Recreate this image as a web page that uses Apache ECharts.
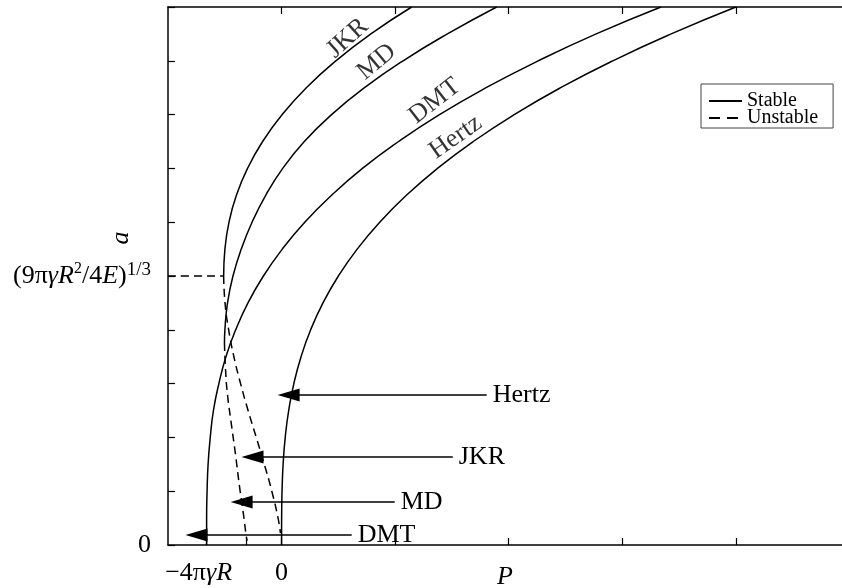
<!DOCTYPE html>
<html>
<head>
<meta charset="utf-8">
<script src="https://cdn.jsdelivr.net/npm/echarts@6/dist/echarts.min.js"></script>
<style>
  html, body { margin: 0; padding: 0; background: #fff; }
  #chart { width: 842px; height: 588px; }
</style>
</head>
<body>
<div id="chart"></div>
<script>
// points are [P, a] (x: one unit per tick, y: one unit per tick)
const hertzCurve = [[0,0],[0.0001,0.25],[0.0005,0.5],[0.0017,0.75],[0.004,1],[0.0135,1.5],[0.032,2],[0.0625,2.5],[0.108,3],[0.1715,3.5],[0.256,4],[0.3645,4.5],[0.5,5],[0.6655,5.5],[0.864,6],[1.0985,6.5],[1.372,7],[1.6875,7.5],[2.048,8],[2.4565,8.5],[2.916,9],[3.43,9.5],[4.0,10]];
const dmtCurve = [[-0.66,0],[-0.66,0.5],[-0.656,1],[-0.647,1.5],[-0.628,2],[-0.6,2.5],[-0.552,3],[-0.49,3.5],[-0.404,4],[-0.296,4.5],[-0.16,5],[0.006,5.5],[0.204,6],[0.44,6.5],[0.712,7],[1.03,7.5],[1.39,8],[1.8,8.5],[2.26,9],[2.77,9.5],[3.34,10]];
const jkrStable = [[1.145,10],[0.786,9.5],[0.478,9],[0.218,8.5],[0.005,8],[-0.167,7.5],[-0.3,7],[-0.398,6.5],[-0.463,6],[-0.499,5.5],[-0.51,5]];
const jkrUnstable = [[-0.51,5],[-0.498,4.5],[-0.466,4],[-0.42,3.5],[-0.361,3],[-0.295,2.5],[-0.223,2],[-0.152,1.5],[-0.086,1],[-0.031,0.5],[-0.01,0.22]];
const mdStable = [[1.894,10],[1.46,9.5],[1.07,9],[0.73,8.5],[0.44,8],[0.2,7.5],[0.01,7],[-0.14,6.5],[-0.26,6],[-0.355,5.5],[-0.428,5],[-0.476,4.5],[-0.499,4],[-0.503,3.755]];
const mdUnstable = [[-0.503,3.755],[-0.493,3.25],[-0.476,2.79],[-0.441,2.23],[-0.405,1.67],[-0.37,1.08],[-0.335,0.56],[-0.31,0.15],[-0.303,0.08]];
const criticalLine = [[-1,5],[-0.51,5]];

// arrows pointing at where each model starts (a, tail P, tip P)
const arrowNames = ['Hertz', 'JKR', 'MD', 'DMT'];
const arrowA = [2.79, 1.636, 0.80, 0.186];
const arrowTail = [1.806, 1.507, 0.996, 0.617];
const arrowTip = [0.062, -0.256, -0.352, -0.749];

// names written along the curves
const curveNames = ['JKR', 'MD', 'DMT', 'Hertz'];
const curveNameP = [0.581, 0.837, 1.348, 1.533];
const curveNameA = [9.42, 8.98, 8.25, 7.58];
const curveNameAngle = [42, 40, 38, 35];

const xTicks = [-0.66, -0.31, 0, 1, 2, 3, 4];
const xTopTicks = [0, 1, 2, 3, 4];
const xLabelAt = [-0.73, 0];
const yLabelAt = [0, 5];

const FONT = 'Liberation Serif';
const txt = { color: '#000', fontFamily: FONT, fontSize: 26 };

let chartDom = document.getElementById('chart');
let myChart = echarts.init(chartDom);

function curve(name, data, dashed) {
  return {
    name: name,
    type: 'line',
    data: data,
    showSymbol: false,
    symbol: 'none',
    smooth: 0.5,
    silent: true,
    lineStyle: { color: '#000', width: 1.5, type: dashed ? [8, 5] : 'solid' },
  };
}

let option = {
  animation: false,
  color: ['#000'],
  grid: { left: 168, right: 0, top: 7, bottom: 43, outerBoundsMode: 'none' },
  legend: {
    data: [
      { name: 'Stable' },
      { name: 'Unstable', lineStyle: { type: [11, 7] } },
    ],
    orient: 'vertical',
    left: 701,
    top: 84,
    padding: [7, 15, 0, 7],
    itemGap: -3,
    itemWidth: 33,
    itemHeight: 10,
    borderColor: '#444',
    borderWidth: 1,
    selectedMode: false,
    itemStyle: { opacity: 0 },
    textStyle: { color: '#000', fontFamily: FONT, fontSize: 20, lineHeight: 17 },
  },
  xAxis: [
    {
      type: 'value',
      min: -1,
      max: 4.934,
      interval: 1,
      name: 'P',
      nameLocation: 'middle',
      nameGap: 19,
      nameMoveOverlap: false,
      nameTextStyle: Object.assign({ fontStyle: 'italic' }, txt),
      splitLine: { show: false },
      axisLine: { onZero: false, lineStyle: { color: '#000', width: 1.5 } },
      axisTick: { inside: true, length: 7, customValues: xTicks, lineStyle: { color: '#000', width: 1.2 } },
      axisLabel: {
        customValues: xLabelAt,
        margin: 15,
        formatter: function (v) { return v < 0 ? '{n|\u22124\u03c0}{i|\u03b3R}' : '{n|0}'; },
        rich: {
          n: txt,
          i: Object.assign({ fontStyle: 'italic' }, txt),
        },
      },
    },
    {
      type: 'value',
      position: 'top',
      min: -1,
      max: 4.934,
      interval: 1,
      splitLine: { show: false },
      axisLine: { onZero: false, lineStyle: { color: '#000', width: 1.5 } },
      axisTick: { inside: true, length: 7, customValues: xTopTicks, lineStyle: { color: '#000', width: 1.2 } },
      axisLabel: { show: false },
    },
  ],
  yAxis: {
    type: 'value',
    min: 0,
    max: 10,
    interval: 1,
    name: 'a',
    nameLocation: 'middle',
    nameGap: 34,
    nameRotate: 90,
    nameMoveOverlap: false,
    nameTextStyle: Object.assign({ fontStyle: 'italic', padding: [0, 0, 0, 76] }, txt),
    splitLine: { show: false },
    axisLine: { onZero: false, lineStyle: { color: '#000', width: 1.5 } },
    axisTick: { inside: true, length: 7, lineStyle: { color: '#000', width: 1.2 } },
    axisLabel: {
      customValues: yLabelAt,
      margin: 17,
      formatter: function (v) {
        return v === 0 ? '{n|0}' : '{n|(9\u03c0}{i|\u03b3R}{s|2}{n|/4}{i|E}{n|)}{t|1/3}';
      },
      rich: {
        n: Object.assign({ lineHeight: 30 }, txt),
        i: Object.assign({ fontStyle: 'italic', lineHeight: 30 }, txt),
        s: { color: '#000', fontFamily: FONT, fontSize: 16, lineHeight: 16, verticalAlign: 'top' },
        t: { color: '#000', fontFamily: FONT, fontSize: 19, lineHeight: 18, verticalAlign: 'top' },
      },
    },
  },
  series: [
    curve('Stable', hertzCurve, false),
    curve('Stable', dmtCurve, false),
    curve('Stable', jkrStable, false),
    curve('Stable', mdStable, false),
    curve('Unstable', jkrUnstable, true),
    curve('Unstable', mdUnstable, true),
    curve('Unstable', criticalLine, true),
    {
      name: 'arrows',
      type: 'line',
      data: [],
      silent: true,
      markLine: {
        silent: true,
        animation: false,
        symbol: ['none', 'triangle'],
        symbolSize: [13, 22],
        lineStyle: { color: '#000', width: 1.5, type: 'solid' },
        label: Object.assign({ show: true, position: 'start', formatter: '{b}', distance: 6 }, txt),
        data: arrowNames.map(function (n, i) {
          return [
            { name: n, coord: [arrowTail[i], arrowA[i]] },
            { coord: [arrowTip[i], arrowA[i]] },
          ];
        }),
      },
    },
    {
      name: 'curveNames',
      type: 'scatter',
      symbolSize: 0,
      silent: true,
      label: Object.assign({ show: true, position: 'inside', formatter: '{b}' }, txt),
      data: curveNames.map(function (n, i) {
        return { name: n, value: [curveNameP[i], curveNameA[i]], label: { rotate: curveNameAngle[i] } };
      }),
    },
  ],
};

option && myChart.setOption(option);
</script>
</body>
</html>
